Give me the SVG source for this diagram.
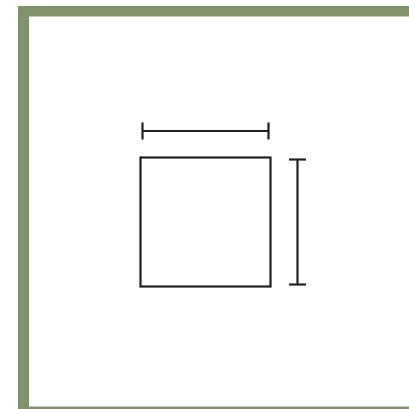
<svg xmlns="http://www.w3.org/2000/svg" width="409" height="409" viewBox="0 0 409 409">
<style>
.frame{fill:#7f926c}
.ln{stroke:#231f20;stroke-width:2.2;fill:none}
</style>
<rect width="409" height="409" fill="#ffffff"/>
<g id="frame">
<rect class="frame" x="18" y="6" width="391" height="10.5"/>
<rect class="frame" x="18" y="6" width="11" height="403"/>
<rect class="frame" x="18" y="406.5" width="391" height="2.5"/>
</g>
<g id="square">
<rect class="ln" x="140.5" y="157.5" width="130" height="129"/>
</g>
<g id="connectors">
<g id="dim-width">
<line class="ln" x1="142" y1="131" x2="269" y2="131"/>
<line class="ln" x1="142.5" y1="122.5" x2="142.5" y2="139.5" stroke-width="3"/>
<line class="ln" x1="268.5" y1="122.5" x2="268.5" y2="139.5" stroke-width="3"/>
</g>
<g id="dim-height">
<line class="ln" x1="297.5" y1="159" x2="297.5" y2="285"/>
<line class="ln" x1="289" y1="159.5" x2="306" y2="159.5" stroke-width="3"/>
<line class="ln" x1="289" y1="284.5" x2="306" y2="284.5" stroke-width="3"/>
</g>
</g>
</svg>
